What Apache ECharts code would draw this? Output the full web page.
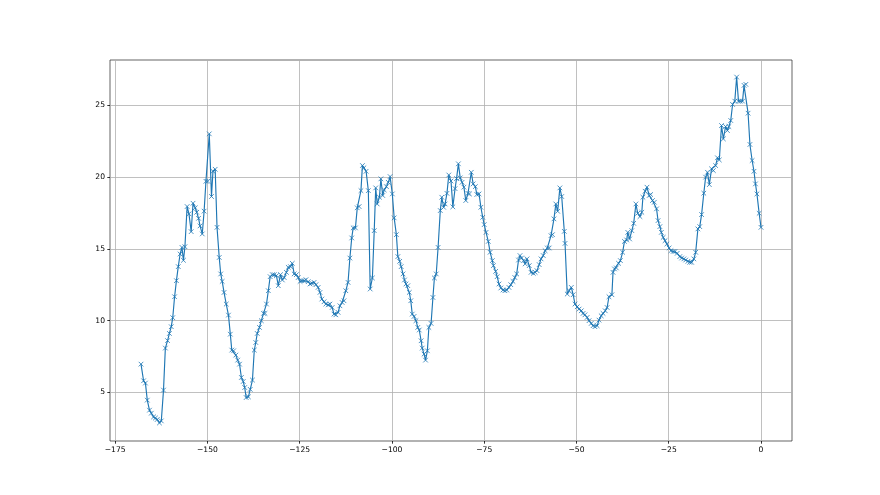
<!DOCTYPE html>
<html>
<head>
<meta charset="utf-8">
<script src="https://cdn.jsdelivr.net/npm/echarts@6/dist/echarts.min.js"></script>
<style>html,body{margin:0;padding:0;background:#fff;}#c{width:880px;height:495px;}</style>
</head>
<body>
<div id="c"></div>
<script>
const xValues = [
-168.0,-167.3,-166.8,-166.3,-165.7,-165.2,-164.6,-164.1,-163.6,-163.0,-162.5,-161.9,-161.4,-160.8,-160.3,-159.8,-159.4,-158.9,-158.4,-157.9,-157.4,-156.9,-156.5,-156.1,-155.5,-155.0,-154.4,-153.9,-153.3,-152.9,-152.4,-152.0,-151.4,-150.9,-150.4,-149.9,-149.5,-148.9,-148.5,-147.9,-147.4,-146.8,-146.4,
-146.0,-145.5,-144.9,-144.3,-143.8,-143.4,-142.9,-142.3,-141.8,-141.3,-140.8,-140.3,-139.9,-139.5,-138.9,-138.4,-137.8,-137.3,-136.9,-136.5,-135.9,-135.4,-134.8,-134.4,-134.0,-133.5,-133.0,-132.4,-131.9,-131.3,-130.8,-130.2,-129.7,-129.2,-128.6,-128.1,-127.5,-127.0,-126.5,-125.9,-125.4,
-124.9,-124.4,-123.8,-123.3,-122.7,-122.2,-121.7,-121.1,-120.6,-120.0,-119.5,-119.0,-118.4,-117.9,-117.3,-116.8,-116.2,-115.7,-115.2,-114.6,-114.1,-113.5,-113.0,-112.5,-111.9,-111.4,-110.9,-110.5,-109.9,-109.4,-108.9,-108.4,-108.0,-107.6,-107.0,-106.4,-105.9,-105.3,-104.8,-104.4,-104.0,-103.4,
-103.0,-102.5,-102.1,-101.5,-101.0,-100.5,-99.9,-99.4,-98.8,-98.4,-97.9,-97.5,-97.0,-96.6,-96.2,-95.7,-95.3,-94.9,-94.5,-94.0,-93.5,-93.0,-92.6,-92.1,-91.8,-91.3,-90.9,-90.4,-90.0,-89.4,-88.9,-88.5,-88.0,-87.5,
-86.9,-86.5,-86.0,-85.6,-85.1,-84.6,-84.0,-83.5,-82.9,-82.5,-82.0,-81.5,-81.0,-80.5,-80.0,-79.4,-79.0,-78.5,-78.0,-77.4,-77.0,-76.4,-75.9,-75.4,-75.0,-74.5,-73.9,-73.4,-72.8,-72.5,-71.9,-71.5,-71.0,-70.5,-69.9,-69.4,-68.9,-68.3,-67.8,-67.2,-66.7,-66.2,-65.7,
-65.3,-64.9,-64.3,-63.9,-63.4,-62.8,-62.3,-61.7,-61.2,-60.7,-60.1,-59.6,-59.0,-58.5,-57.9,-57.4,-56.9,-56.5,-56.1,-55.6,-55.1,-54.5,-54.0,-53.3,-53.1,-52.5,-52.0,-51.4,-50.9,-50.4,-49.8,-49.3,-48.7,-48.2,-47.7,-47.1,-46.6,-46.0,-45.5,-45.0,-44.4,-43.9,-43.3,-42.8,-42.2,-41.7,-41.2,
-40.4,-40.1,-39.7,-39.2,-38.6,-38.1,-37.5,-37.0,-36.4,-36.1,-35.6,-35.0,-34.5,-33.9,-33.4,-32.8,-32.3,-32.0,-31.4,-30.9,-30.3,-29.9,-29.4,-28.9,-28.3,-27.9,-27.4,-27.0,-26.5,-26.0,-25.5,-24.9,-24.4,-23.8,-23.3,-22.7,
-22.0,-21.5,-20.9,-20.4,-19.8,-19.3,-18.8,-18.2,-17.7,-17.1,-16.6,-16.1,-15.5,-15.0,-14.5,-14.0,-13.4,-12.9,-12.3,-11.8,-11.3,-10.7,-10.2,-9.6,-9.1,-8.7,-8.2,-7.7,-7.1,-6.6,-6.1,-5.6,-5.0,-4.6,-4.1,-3.5,-3.0,-2.4,-1.9,-1.5,-1.1,-0.5,0
];
const yValues = [
6.96,5.8,5.64,4.45,3.75,3.54,3.28,3.2,3.1,2.86,3.0,5.15,8.08,8.6,9.1,9.57,10.2,11.66,12.78,13.76,14.64,15.1,14.2,15.15,17.95,17.44,16.2,18.18,17.86,17.55,17.13,16.6,16.04,17.63,19.71,19.71,23.02,18.65,20.41,20.55,16.5,14.4,13.25,
12.73,11.96,11.15,10.38,9.05,7.94,7.89,7.59,7.24,6.96,6.03,5.75,5.33,4.63,4.68,5.2,5.85,7.94,8.47,9.1,9.52,9.99,10.5,10.5,11.15,12.08,13.06,13.2,13.2,13.13,12.43,13.2,12.83,13.0,13.36,13.71,13.76,13.99,13.25,13.2,13.0,
12.73,12.78,12.78,12.85,12.71,12.55,12.6,12.66,12.5,12.31,11.96,11.5,11.31,11.15,11.1,11.15,10.91,10.45,10.4,10.57,11.03,11.26,11.38,12.08,12.66,14.36,15.76,16.46,16.46,17.86,17.95,19.06,20.81,20.65,20.41,19.06,12.2,12.97,16.27,19.25,18.13,18.6,
19.88,18.72,19.11,19.34,19.64,20.04,18.83,17.16,15.99,14.46,14.13,13.76,13.25,12.83,12.55,12.43,11.96,11.38,10.45,10.29,9.99,9.52,9.34,8.59,8.08,7.66,7.24,7.89,9.52,9.8,11.61,12.97,13.25,15.1,
17.67,18.6,17.9,18.13,18.87,20.15,19.73,17.93,19.2,19.9,20.93,19.95,19.64,19.3,18.37,18.87,18.83,20.34,19.53,19.34,18.79,18.83,17.9,17.2,16.69,16.15,15.52,14.76,14.18,13.83,13.43,13.06,12.55,12.27,12.13,12.08,12.13,12.31,12.5,12.73,13.0,13.25,14.22,
14.53,14.36,14.18,13.95,14.3,13.83,13.36,13.29,13.36,13.48,13.9,14.3,14.53,14.87,15.06,15.06,15.92,15.99,17.09,18.13,17.62,19.25,18.65,16.22,15.38,11.85,12.08,12.31,11.8,11.15,10.96,10.8,10.68,10.5,10.4,10.22,9.99,9.8,9.64,9.57,9.64,10.03,10.33,10.5,10.68,10.91,11.66,
11.8,13.36,13.6,13.67,13.99,14.18,14.76,15.52,15.62,16.15,15.69,16.27,16.78,18.13,17.48,17.25,17.55,18.6,19.02,19.3,18.72,18.79,18.37,18.25,17.79,16.97,16.55,16.15,15.8,15.57,15.34,15.06,14.87,14.82,14.82,14.69,
14.46,14.36,14.3,14.22,14.13,14.06,14.06,14.3,14.76,16.39,16.55,17.39,18.88,20.0,20.34,19.48,20.58,20.46,20.81,21.35,21.2,23.6,22.67,23.53,23.25,23.53,23.95,25.07,25.3,26.98,25.3,25.3,25.3,26.4,26.47,24.46,22.28,21.16,20.41,19.53,18.83,17.48,16.5
];
const xTicks = [-175, -150, -125, -100, -75, -50, -25, 0];
const yTicks = [5, 10, 15, 20, 25];

const data = xValues.map((x, i) => [x, yValues[i]]);
const fmt = v => String(v).replace('-', '\u2212');
const labelStyle = { color: '#000', fontSize: 7.6, fontFamily: 'DejaVu Sans' };

const chart = echarts.init(document.getElementById('c'), null, { renderer: 'canvas' });
chart.setOption({
  animation: false,
  backgroundColor: '#fff',
  grid: { left: 110, top: 60, width: 682, height: 381, show: true, borderColor: '#222', borderWidth: 0.7, backgroundColor: 'transparent' },
  xAxis: {
    type: 'value', min: -176.4, max: 8.4,
    axisLine: { show: false, onZero: false },
    axisTick: { show: true, customValues: xTicks, length: 2.7, inside: false, lineStyle: { color: '#000', width: 0.8 } },
    axisLabel: { show: true, customValues: xTicks, margin: 5, formatter: fmt, ...labelStyle },
    splitLine: { show: true, lineStyle: { color: '#b0b0b0', width: 0.8 } }
  },
  yAxis: {
    type: 'value', min: 1.6, max: 28.17,
    axisLine: { show: false, onZero: false },
    axisTick: { show: true, customValues: yTicks, length: 2.7, inside: false, lineStyle: { color: '#000', width: 0.8 } },
    axisLabel: { show: true, customValues: yTicks, margin: 5, formatter: fmt, ...labelStyle },
    splitLine: { show: true, lineStyle: { color: '#b0b0b0', width: 0.8 } }
  },
  series: [{
    type: 'line',
    data: data,
    symbol: 'path://M0,0L10,10M10,0L0,10',
    symbolSize: 4.6,
    showAllSymbol: true,
    lineStyle: { color: '#1f77b4', width: 1.15 },
    itemStyle: { color: '#1f77b4', borderColor: '#1f77b4', borderWidth: 0.8 },
    emphasis: { disabled: true },
    z: 3
  }]
});
</script>
</body>
</html>
